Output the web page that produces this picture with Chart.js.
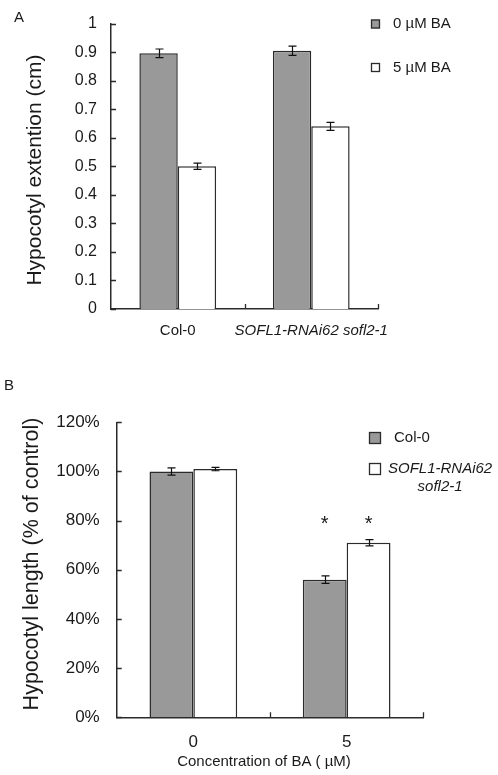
<!DOCTYPE html>
<html><head><meta charset="utf-8">
<script src="https://cdn.jsdelivr.net/npm/chart.js@4.4.1/dist/chart.umd.min.js"></script>
<style>
html,body{margin:0;padding:0;background:#fff;}
#wrap{position:relative;width:498px;height:775px;overflow:hidden;}
canvas{position:absolute;left:0;}
#c1{top:0;} #c2{top:350px;}
</style></head><body>
<div id="wrap"><canvas id="c1" width="498" height="350"></canvas><canvas id="c2" width="498" height="425"></canvas></div>
<script>
// ---------- Panel A data ----------
const genotypesA = ['Col-0', 'SOFL1-RNAi62 sofl2-1'];
const seriesA = ['0 µM BA', '5 µM BA'];
const extension0BA = [0.896, 0.905];
const extension5BA = [0.500, 0.640];
const err0BA = [0.015, 0.016];
const err5BA = [0.011, 0.014];
const ticksA = ['0', '0.1', '0.2', '0.3', '0.4', '0.5', '0.6', '0.7', '0.8', '0.9', '1'];
const titleYA = 'Hypocotyl extention (cm)';

// ---------- Panel B data ----------
const concentrationsB = ['0', '5'];
const seriesB = ['Col-0', 'SOFL1-RNAi62 sofl2-1'];
const lengthCol = [1.00, 0.56];
const lengthSofl = [1.01, 0.71];
const errCol = [0.015, 0.015];
const errSofl = [0.007, 0.013];
const starsCol = ['', '*'];
const starsSofl = ['', '*'];
const starLevel = 0.81;
const ticksB = ['0%', '20%', '40%', '60%', '80%', '100%', '120%'];
const titleYB = 'Hypocotyl length (% of control)';
const titleXB = 'Concentration of BA ( µM)';

const FONT = "'Liberation Sans', Arial, Helvetica, sans-serif";
const INK = '#1a1a1a';
const GRAY = '#999999';
const EDGE = '#2b2b2b';

const decor = {
  id: 'decor',
  afterDatasetsDraw(chart, args, o) {
    const ctx = chart.ctx, ys = chart.scales.y;
    ctx.save();
    ctx.strokeStyle = '#111'; ctx.lineWidth = 1.2;
    o.errors.forEach((errs, di) => {
      const meta = chart.getDatasetMeta(di);
      const data = chart.data.datasets[di].data;
      meta.data.forEach((bar, j) => {
        const v = data[j], e = errs[j];
        const yt = ys.getPixelForValue(v + e), yb = ys.getPixelForValue(v - e);
        const bx = Math.round(bar.x) + 0.5;
        ctx.beginPath();
        ctx.moveTo(bx, yt); ctx.lineTo(bx, yb);
        ctx.moveTo(bx - o.cap, yt); ctx.lineTo(bx + o.cap, yt);
        ctx.moveTo(bx - o.cap, yb); ctx.lineTo(bx + o.cap, yb);
        ctx.stroke();
      });
    });
    // significance stars
    if (o.stars) {
      ctx.fillStyle = INK;
      ctx.font = o.starFont + 'px ' + FONT;
      ctx.textAlign = 'center'; ctx.textBaseline = 'alphabetic';
      o.stars.forEach((arr, di) => {
        const meta = chart.getDatasetMeta(di);
        arr.forEach((s, j) => {
          if (!s) return;
          const yy = ys.getPixelForValue(o.starLevel) + 0.575 * o.starFont;
          ctx.fillText(s, meta.data[j].x, yy);
        });
      });
    }
    ctx.restore();
  },
  afterDraw(chart, args, o) {
    const ctx = chart.ctx, ca = chart.chartArea;
    const xs = chart.scales.x, ys = chart.scales.y;
    ctx.save();
    // inward ticks
    ctx.strokeStyle = EDGE; ctx.lineWidth = 1.3;
    ctx.beginPath();
    ys.ticks.forEach(t => {
      const yy = Math.round(ys.getPixelForValue(t.value)) + 0.5;
      ctx.moveTo(ca.left, yy); ctx.lineTo(ca.left + o.tickLen, yy);
    });
    for (let i = 0; i < xs.ticks.length; i++) {
      const xx = Math.round(xs.getPixelForValue(i + 0.5)) + 0.5;
      ctx.moveTo(xx, ca.bottom); ctx.lineTo(xx, ca.bottom - o.tickLen);
    }
    ctx.stroke();
    // legend
    const L = o.legend;
    chart.data.datasets.forEach((ds, i) => {
      const cy = L.y[i];
      ctx.fillStyle = ds.backgroundColor;
      ctx.fillRect(L.x, cy - L.box / 2, L.box, L.box);
      ctx.strokeStyle = EDGE; ctx.lineWidth = 1.3;
      ctx.strokeRect(L.x + 0.5, cy - L.box / 2 + 0.5, L.box - 1, L.box - 1);
      ctx.fillStyle = INK;
      ctx.font = (L.italic[i] ? 'italic ' : '') + L.font + 'px ' + FONT;
      ctx.textBaseline = 'middle';
      const lines = L.wrap && L.wrap[i] ? L.wrap[i] : [ds.label];
      const w0 = ctx.measureText(lines[0]).width;
      ctx.textAlign = 'left';
      ctx.fillText(lines[0], L.textX[i], cy);
      for (let k = 1; k < lines.length; k++) {
        ctx.textAlign = 'center';
        ctx.fillText(lines[k], L.textX[i] + w0 / 2, cy + k * L.lineGap);
      }
    });
    // axis titles
    ctx.fillStyle = INK;
    ctx.textAlign = 'center'; ctx.textBaseline = 'middle';
    ctx.save();
    ctx.translate(o.yTitle.x, o.yTitle.y);
    ctx.rotate(-Math.PI / 2);
    ctx.font = o.yTitle.size + 'px ' + FONT;
    ctx.fillText(o.yTitle.text, 0, 0);
    ctx.restore();
    if (o.xTitle) {
      ctx.font = o.xTitle.size + 'px ' + FONT;
      ctx.fillText(o.xTitle.text, o.xTitle.x, o.xTitle.y);
    }
    // panel letter
    ctx.font = o.panel.size + 'px ' + FONT;
    ctx.fillText(o.panel.text, o.panel.x, o.panel.y);
    ctx.restore();
  }
};

function makeChart(id, cfg) {
  return new Chart(document.getElementById(id), {
    type: 'bar',
    data: {
      labels: cfg.labels,
      datasets: cfg.series.map((s, i) => ({
        label: s,
        data: cfg.values[i],
        backgroundColor: i === 0 ? GRAY : '#ffffff',
        borderColor: EDGE,
        borderWidth: 1.5,
        borderSkipped: 'start',
        categoryPercentage: cfg.catPct,
        barPercentage: 1.0
      }))
    },
    options: {
      responsive: false,
      animation: false,
      devicePixelRatio: 1,
      layout: { padding: cfg.padding },
      plugins: {
        legend: { display: false },
        tooltip: { enabled: false },
        decor: cfg.decor
      },
      scales: {
        x: {
          grid: { display: false, drawTicks: false },
          border: { display: true, color: EDGE, width: 1.5 },
          ticks: {
            color: INK,
            padding: cfg.xPad,
            maxRotation: 0,
            autoSkip: false,
            font: cfg.xFont
          },
          afterFit: s => { s.height = cfg.xHeight; }
        },
        y: {
          min: 0, max: cfg.yMax,
          grid: { display: false, drawTicks: false },
          border: { display: true, color: EDGE, width: 1.5 },
          ticks: {
            stepSize: cfg.step,
            color: INK,
            padding: cfg.yPad,
            font: { family: FONT, size: cfg.yFontSize },
            callback: (v, i) => cfg.tickLabels[i]
          },
          afterFit: s => { s.width = cfg.yWidth; }
        }
      }
    },
    plugins: [decor]
  });
}

makeChart('c1', {
  labels: genotypesA,
  series: seriesA,
  values: [extension0BA, extension5BA],
  catPct: 0.575,
  padding: { left: 0, top: 11, right: 120, bottom: 0 },
  xPad: 13, xHeight: 41,
  xFont: ctx => ({ family: FONT, size: 15, style: ctx.index === 1 ? 'italic' : 'normal' }),
  yMax: 1, step: 0.1, yPad: 14, yFontSize: 16, yWidth: 111,
  tickLabels: ticksA,
  decor: {
    errors: [err0BA, err5BA], cap: 4, tickLen: 5,
    legend: { x: 371, y: [24, 67.5], box: 9, textX: [393, 393], font: 15, italic: [false, false], lineGap: 18 },
    yTitle: { text: titleYA, x: 35, y: 170, size: 21 },
    panel: { text: 'A', x: 19, y: 18, size: 15 }
  }
});

makeChart('c2', {
  labels: concentrationsB,
  series: seriesB,
  values: [lengthCol, lengthSofl],
  catPct: 0.572,
  padding: { left: 0, top: 72.3, right: 74.7, bottom: 0 },
  xPad: 15, xHeight: 57.7,
  xFont: { family: FONT, size: 17 },
  yMax: 1.2, step: 0.2, yPad: 17, yFontSize: 17, yWidth: 116.7,
  tickLabels: ticksB,
  decor: {
    errors: [errCol, errSofl], cap: 4, tickLen: 5,
    stars: [starsCol, starsSofl], starLevel: starLevel, starFont: 20,
    legend: { x: 369, y: [88, 119], box: 12, textX: [394, 388], font: 15, italic: [false, true], lineGap: 18,
              wrap: [null, seriesB[1].split(' ')] },
    yTitle: { text: titleYB, x: 32, y: 214, size: 21.5 },
    xTitle: { text: titleXB, x: 264, y: 412, size: 15 },
    panel: { text: 'B', x: 9, y: 36, size: 15 }
  }
});
</script>
</body></html>
